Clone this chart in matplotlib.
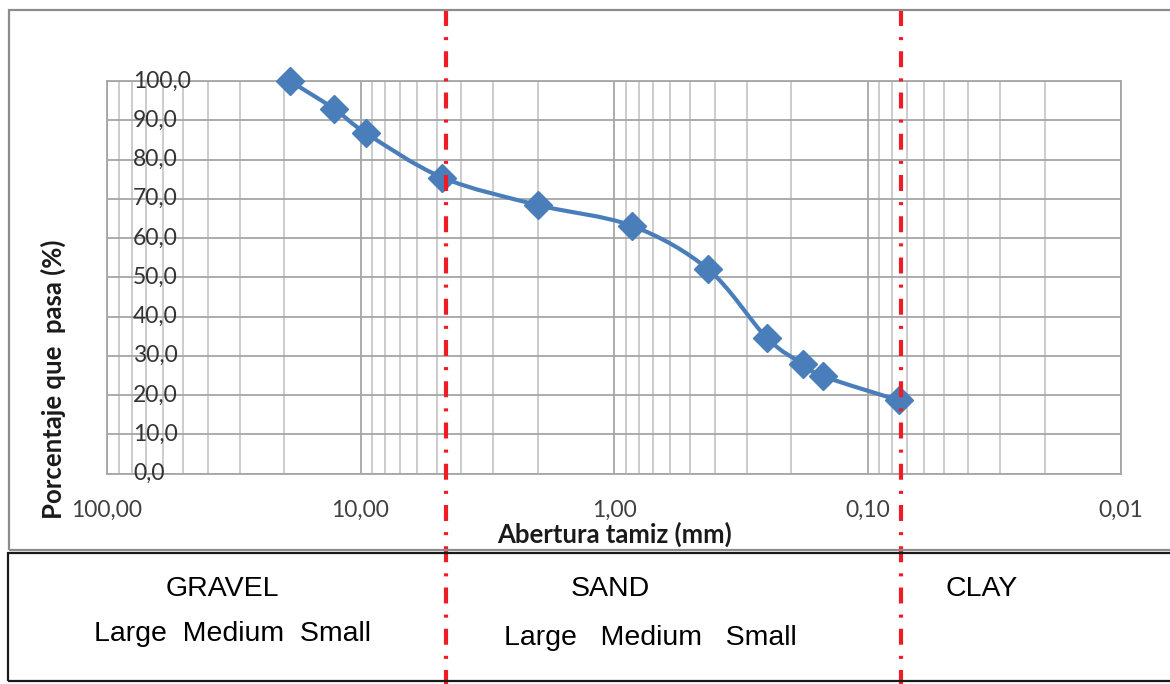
import numpy as np
import matplotlib
matplotlib.use("Agg")
import matplotlib.pyplot as plt
from matplotlib.path import Path
from matplotlib.patches import PathPatch, Rectangle
from matplotlib.ticker import FixedLocator, LogLocator, NullFormatter
from matplotlib.transforms import blended_transform_factory

# -------- Data -------- #
sieve_mm = [19.0, 12.7, 9.5, 4.75, 2.0, 0.85, 0.425, 0.25, 0.18, 0.15, 0.075]
pct_pass = [100.0, 92.9, 86.7, 75.4, 68.4, 63.1, 52.0, 34.6, 27.9, 24.8, 18.6]

x_ticks = [100, 10, 1, 0.1, 0.01]
x_tick_labels = ["100,00", "10,00", "1,00", "0,10", "0,01"]
y_ticks = [0, 10, 20, 30, 40, 50, 60, 70, 80, 90, 100]

boundaries_mm = [4.6, 0.074]   # gravel/sand and sand/clay limits

zones = ["GRAVEL", "SAND", "CLAY"]
sub_zones = ["Large  Medium  Small", "Large   Medium   Small"]

# -------- Style -------- #
W, H = 1170, 684
plt.rcParams['font.family'] = ['Lato', 'DejaVu Sans']
plt.rcParams['lines.scale_dashes'] = False
blue = '#4A7EBB'
red = '#EE1C25'


def fx(px):
    return px / W


def fy(py):
    return 1 - py / H


fig = plt.figure(figsize=(W / 100, H / 100), dpi=100)
ax = fig.add_axes([fx(107), fy(473.5), fx(1121 - 107), (473.5 - 81) / H])

# -------- Frames -------- #
fig.patches.append(Rectangle((fx(9), fy(550)), fx(1200), (550 - 10) / H,
                             transform=fig.transFigure, fill=False,
                             edgecolor='#8C8C8C', linewidth=1.6, clip_on=False))
fig.patches.append(Rectangle((fx(8), fy(681)), fx(1200), (681 - 553) / H,
                             transform=fig.transFigure, fill=False,
                             edgecolor='#1A1A1A', linewidth=1.6, clip_on=False))

# -------- Axes -------- #
ax.set_xscale('log')
ax.set_xlim(100, 0.01)
ax.set_ylim(0, 100)
ax.xaxis.set_major_locator(FixedLocator(x_ticks))
ax.xaxis.set_minor_locator(LogLocator(base=10, subs=np.arange(2, 10)))
ax.xaxis.set_minor_formatter(NullFormatter())
ax.set_xticklabels(x_tick_labels)
ax.set_yticks(y_ticks)
ax.set_yticklabels([])
ax.tick_params(which='both', length=0)
ax.tick_params(axis='x', pad=19, labelsize=16.5, labelcolor='#404040')
ax.grid(True, which='major', color='#A6A6A6', linewidth=1.3)
ax.grid(True, which='minor', axis='x', color='#C8C8C8', linewidth=1.3)
for s in ax.spines.values():
    s.set_color('#A6A6A6')
    s.set_linewidth(1.3)
ax.set_axisbelow(True)

# y labels sit inside the plot area, left aligned (Excel style)
ytrans = blended_transform_factory(ax.transAxes, ax.transData)
for v in y_ticks:
    ax.text((133 - 107) / (1121 - 107), v, f"{v:.1f}".replace('.', ','),
            transform=ytrans, ha='left', va='center', fontsize=16.5,
            color='#333333')

fig.text(fx(615), fy(534), "Abertura tamiz (mm)", ha='center', va='center',
         fontsize=18.5, fontweight='bold', color='#1A1A1A')
fig.text(fx(53), fy(379), "Porcentaje que  pasa (%)", ha='center',
         va='center', rotation=90, fontsize=18.5, fontweight='bold',
         color='#1A1A1A')

# -------- Smoothed curve (Bezier through the points, like Excel) -------- #
lx = np.log10(sieve_mm)
yy = np.array(pct_pass)
n = len(lx)
verts = [(sieve_mm[0], pct_pass[0])]
codes = [Path.MOVETO]
for i in range(n - 1):
    p0 = (lx[max(i - 1, 0)], yy[max(i - 1, 0)])
    p1 = (lx[i], yy[i])
    p2 = (lx[i + 1], yy[i + 1])
    p3 = (lx[min(i + 2, n - 1)], yy[min(i + 2, n - 1)])
    c1 = (p1[0] + (p2[0] - p0[0]) / 6, p1[1] + (p2[1] - p0[1]) / 6)
    c2 = (p2[0] - (p3[0] - p1[0]) / 6, p2[1] - (p3[1] - p1[1]) / 6)
    verts += [(10 ** c1[0], c1[1]), (10 ** c2[0], c2[1]), (10 ** p2[0], p2[1])]
    codes += [Path.CURVE4] * 3
ax.add_patch(PathPatch(Path(verts, codes), fill=False, edgecolor=blue,
                       linewidth=3, capstyle='round', joinstyle='round',
                       zorder=3, clip_on=False))
ax.plot(sieve_mm, pct_pass, linestyle='none', marker='D', markersize=14,
        color=blue, zorder=4, clip_on=False)

# -------- Zone limits -------- #
vtrans = blended_transform_factory(ax.transData, fig.transFigure)
for b in boundaries_mm:
    ax.plot([b, b], [fy(10), 0], transform=vtrans, color=red, linewidth=3,
            linestyle=(0, (11.5, 8, 2.2, 8)), clip_on=False, zorder=5)

# -------- Table text -------- #
zone_x = [222, 610, 982]
for name, px in zip(zones, zone_x):
    fig.text(fx(px), fy(596), name, ha='center', va='baseline',
             fontsize=20.5, family='Liberation Sans', color='black')
fig.text(fx(233), fy(641), sub_zones[0], ha='center', va='baseline',
         fontsize=20.5, family='Liberation Sans', color='black')
fig.text(fx(650), fy(645), sub_zones[1], ha='center', va='baseline',
         fontsize=20.5, family='Liberation Sans', color='black')

fig.savefig("out.png", dpi=100)
